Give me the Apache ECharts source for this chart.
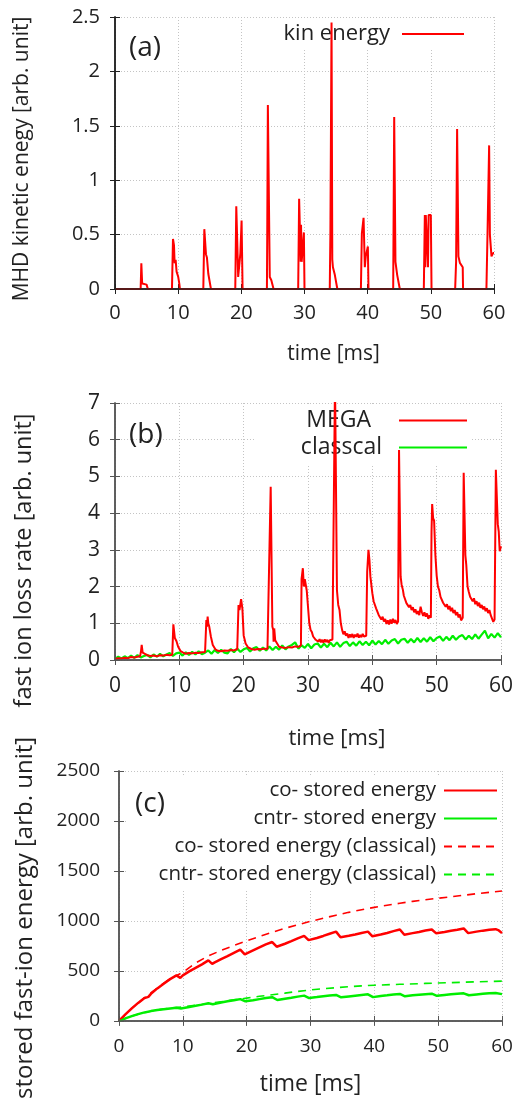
<!DOCTYPE html>
<html>
<head>
<meta charset="utf-8">
<script src="https://cdn.jsdelivr.net/npm/echarts@6/dist/echarts.min.js"></script>
<style>html,body{margin:0;padding:0;background:#fff}#c{width:520px;height:1102px}</style>
</head>
<body>
<div id="c"></div>
<script>
// ---------- DATA ----------
const timeTicks = [0, 10, 20, 30, 40, 50, 60];

// (a) MHD kinetic energy [t(ms), value]
const kinEnergy = [
[0,0],[4.06,0],[4.17,0.236],[4.3,0.05],[4.6,0.04],[5.0,0.04],[5.17,0.03],[5.2,0],
[9.02,0],[9.18,0.46],[9.34,0.40],[9.44,0.236],[9.6,0.267],[9.75,0.16],[10.0,0.113],[10.18,0.05],[10.28,0],
[13.98,0],[14.14,0.55],[14.4,0.32],[14.55,0.29],[14.77,0.14],[15.03,0.15],[15.19,0],
[19.04,0],[19.2,0.76],[19.4,0.33],[19.5,0.11],[19.7,0.12],[19.85,0.33],[20.04,0.63],[20.2,0],
[24.05,0],[24.1,0.48],[24.2,1.69],[24.5,0.11],[24.75,0.08],[25.0,0.07],[25.1,0],
[29.0,0],[29.15,0.83],[29.4,0.25],[29.45,0.59],[29.55,0.25],[29.9,0.52],[30.0,0],
[34.0,0],[34.1,0.51],[34.28,2.45],[34.4,0.27],[34.5,0.2],[34.8,0.13],[35.0,0.12],[35.2,0],
[38.93,0],[39.08,0.51],[39.35,0.655],[39.55,0.2],[39.7,0.3],[40.03,0.39],[40.13,0],
[44.04,0],[44.2,1.58],[44.4,0.25],[44.67,0.13],[44.9,0.12],[45.09,0],
[48.89,0],[49.05,0.68],[49.12,0.2],[49.2,0.68],[49.45,0.67],[49.55,0.2],[49.65,0.68],[50.0,0.68],[50.11,0],
[53.85,0],[54.0,0.25],[54.16,1.47],[54.37,0.3],[54.6,0.24],[55.05,0.2],[55.1,0],
[58.8,0],[58.97,0.5],[59.23,1.32],[59.35,0.5],[59.6,0.3],[59.86,0.33],[60,0.33]
];

// (b) fast ion loss rate: MEGA
const lossMEGA = [
[0,0.03],[0.5,0.05],[1,0.04],[1.5,0.06],[2,0.05],[2.5,0.08],[3,0.07],[3.5,0.09],[3.9,0.1],[4.05,0.25],[4.15,0.41],[4.3,0.2],[4.6,0.18],
[5.0,0.13],[5.5,0.11],[6,0.12],[6.5,0.10],[7,0.13],[7.5,0.12],[8,0.14],[8.5,0.13],[8.9,0.14],[9.07,0.97],[9.3,0.6],[9.56,0.51],[9.8,0.37],
[10.2,0.24],[10.6,0.2],[11,0.17],[11.5,0.19],[12,0.18],[12.5,0.2],[13,0.19],[13.5,0.21],[14.0,0.22],[14.2,1.09],[14.3,0.91],[14.4,1.18],
[14.5,1.0],[14.65,0.91],[14.9,0.64],[15.2,0.41],[15.6,0.29],[16,0.25],[16.5,0.24],[17,0.26],[17.5,0.25],[18,0.27],[18.5,0.26],[19.0,0.3],
[19.2,1.5],[19.35,1.36],[19.6,1.66],[19.8,1.4],[20.0,0.67],[20.3,0.45],[20.7,0.34],[21.2,0.3],[21.7,0.28],[22.2,0.3],[22.7,0.29],[23.2,0.31],
[23.7,0.3],[24.0,0.32],[24.2,4.72],[24.46,0.91],[24.6,0.82],[24.65,0.5],[24.75,0.86],[24.9,0.54],[25.5,0.36],[26,0.34],[26.5,0.33],[27,0.35],
[27.5,0.34],[28,0.37],[28.5,0.36],[28.9,0.4],[29.0,2.2],[29.2,2.5],[29.35,2.0],[29.5,2.2],[29.8,1.9],
[30.2,1.0],[30.4,0.82],[30.6,0.76],[30.8,0.64],[31.0,0.66],[31.2,0.55],[31.4,0.6],[31.6,0.5],[31.8,0.57],[32.0,0.48],[32.2,0.55],[32.4,0.47],
[32.6,0.56],[32.8,0.49],[33.0,0.55],[33.2,0.47],[33.4,0.54],[33.6,0.5],[33.8,0.56],[33.95,0.52],
[34.2,7.6],[34.35,7.6],[34.5,1.9],[34.7,1.5],[34.9,1.36],[35.1,1.0],
[35.3,0.82],[35.5,0.7],[35.7,0.78],[35.9,0.66],[36.1,0.72],[36.3,0.6],[36.5,0.7],[36.7,0.62],[36.9,0.71],[37.1,0.6],[37.3,0.69],[37.5,0.63],
[37.7,0.72],[37.9,0.61],[38.1,0.68],[38.3,0.62],[38.5,0.71],[38.7,0.64],[38.9,0.69],[39.05,0.66],
[39.2,2.4],[39.4,3.0],[39.55,2.72],[39.7,2.27],
[40.0,1.82],[40.2,1.6],[40.4,1.58],[40.6,1.4],[40.8,1.36],[41.0,1.22],[41.2,1.2],[41.4,1.1],[41.6,1.18],[41.8,1.05],[42.0,1.12],[42.2,0.98],
[42.4,1.08],[42.6,0.97],[42.8,1.1],[43.0,0.99],[43.2,1.12],[43.4,1.02],[43.6,1.09],[43.8,0.98],[44.0,1.05],
[44.15,5.72],
[44.4,2.27],[44.55,2.05],[44.75,1.91],[44.9,1.75],[45.1,1.7],[45.3,1.55],[45.5,1.58],[45.7,1.44],[45.9,1.5],[46.1,1.36],[46.3,1.44],[46.5,1.3],
[46.7,1.38],[46.9,1.25],[47.1,1.33],[47.3,1.22],[47.5,1.45],[47.7,1.3],[47.9,1.2],[48.1,1.3],[48.3,1.18],[48.5,1.27],[48.7,1.12],[48.9,1.22],[49.1,1.15],
[49.2,3.5],[49.3,4.25],[49.45,3.86],[49.6,3.8],[49.8,2.86],
[50.0,2.3],[50.2,2.0],[50.4,1.9],[50.6,1.72],[50.8,1.75],[51.0,1.56],[51.2,1.6],[51.4,1.45],[51.6,1.52],[51.8,1.38],[52.0,1.47],[52.2,1.33],
[52.4,1.42],[52.6,1.28],[52.8,1.36],[53.0,1.22],[53.2,1.3],[53.4,1.16],[53.6,1.24],[53.8,1.08],[54.05,1.15],
[54.2,5.1],
[54.46,2.86],[54.6,2.6],[54.8,2.0],[55.0,1.85],[55.2,1.72],[55.4,1.76],[55.6,1.6],[55.8,1.68],[56.0,1.52],[56.2,1.6],[56.4,1.47],[56.6,1.56],
[56.8,1.42],[57.0,1.5],[57.2,1.38],[57.4,1.46],[57.6,1.33],[57.8,1.41],[58.0,1.28],[58.2,1.36],[58.4,1.22],[58.6,1.27],[58.8,1.04],[59.0,1.1],
[59.2,5.18],[59.5,3.7],[59.65,3.5],[59.8,2.96],[60,3.1]
];

// (b) fast ion loss rate: classical
const lossClassical = [
[0,0.03],[0.5,0.09],[1,0.04],[1.5,0.1],[2,0.05],[2.5,0.12],[3,0.06],[3.5,0.13],[4,0.07],[4.5,0.11],[5,0.14],[5.5,0.07],[6,0.15],
[6.5,0.09],[7,0.17],[7.5,0.1],[8,0.15],[8.5,0.19],[9,0.11],[9.5,0.18],[10,0.2],[10.5,0.12],[11,0.21],[11.5,0.14],[12,0.22],[12.5,0.15],
[13,0.24],[13.5,0.16],[14,0.2],[14.5,0.26],[15,0.17],[15.5,0.27],[16,0.19],[16.5,0.28],[17,0.2],[17.5,0.18],[18,0.3],[18.5,0.21],
[19,0.31],[19.5,0.22],[20,0.29],[20.5,0.33],[21,0.23],[21.5,0.32],[22,0.35],[22.5,0.25],[23,0.34],[23.5,0.26],[24,0.37],[24.5,0.27],
[25,0.36],[25.5,0.28],[26,0.4],[26.5,0.29],[27,0.37],[27.5,0.41],[28,0.48],[28.5,0.31],[29,0.4],[29.5,0.33],[30,0.44],[30.5,0.32],
[31,0.42],[31.5,0.45],[32,0.34],[32.5,0.44],[33,0.35],[33.5,0.47],[34,0.37],[34.5,0.48],[35,0.36],[35.5,0.46],[36,0.5],[36.5,0.38],
[37,0.48],[37.5,0.39],[38,0.51],[38.5,0.41],[39,0.5],[39.5,0.4],[40,0.53],[40.5,0.42],[41,0.52],[41.5,0.43],[42,0.55],[42.5,0.44],
[43,0.53],[43.5,0.57],[44,0.45],[44.5,0.55],[45,0.58],[45.5,0.47],[46,0.57],[46.5,0.48],[47,0.6],[47.5,0.49],[48,0.59],[48.5,0.5],
[49,0.62],[49.5,0.51],[50,0.6],[50.5,0.64],[51,0.52],[51.5,0.63],[52,0.54],[52.5,0.66],[53,0.55],[53.5,0.64],[54,0.68],[54.5,0.56],
[55,0.66],[55.5,0.57],[56,0.7],[56.5,0.58],[57,0.69],[57.5,0.8],[58,0.59],[58.5,0.71],[59,0.61],[59.5,0.73],[60,0.62]
];

// (c) stored fast-ion energy
const coStored = [
[0,0],[1,65],[2,125],[3,180],[4,228],[4.6,240],[5,270],[6,325],[7,372],[8,418],[9,455],[9.6,430],[10,455],[11,495],[12,530],[13,565],
[14,605],[14.6,570],[15,585],[16,618],[17,648],[18,680],[19,712],[19.7,666],[20,675],[21,705],[22,735],[23,765],[24,789],[24.7,742],
[25,750],[26,772],[27,798],[28,825],[29,850],[29.7,808],[30,812],[31,830],[32,850],[33,872],[34,893],[34.7,837],[35,842],[36,852],
[37,865],[38,880],[39,893],[39.7,846],[40,850],[41,864],[42,880],[43,898],[44,915],[44.7,862],[45,866],[46,878],[47,890],[48,904],
[49,915],[49.7,876],[50,880],[51,890],[52,902],[53,912],[54,925],[54.7,878],[55,882],[56,893],[57,903],[58,912],[59,918],[59.5,905],[60,878]
];
const cntrStored = [
[0,0],[1,25],[2,48],[3,68],[4,85],[5,98],[6,108],[7,117],[8,124],[9,131],[9.7,125],[10,130],[11,140],[12,151],[13,163],[14,176],
[14.7,166],[15,170],[16,185],[17,196],[18,206],[19,218],[19.8,196],[20,198],[21,206],[22,218],[23,229],[24,237],[24.8,209],[25,210],
[26,222],[27,232],[28,243],[29,253],[29.8,228],[30,229],[31,238],[32,247],[33,254],[34,260],[34.8,236],[35,238],[36,245],[37,252],
[38,259],[39,266],[39.8,238],[40,240],[41,250],[42,256],[43,263],[44,270],[44.8,246],[45,248],[46,256],[47,262],[48,267],[49,272],
[49.8,251],[50,253],[51,260],[52,266],[53,271],[54,276],[54.8,257],[55,258],[56,265],[57,271],[58,276],[59,280],[60,268]
];
const coClassical = [
[0,0],[2,125],[4,232],[6,330],[8,422],[10,485],[12,580],[14,650],[16,705],[18,755],[20,800],[22,845],[24,887],[26,926],[28,962],
[30,996],[32,1027],[34,1057],[36,1086],[38,1112],[40,1136],[42,1157],[44,1177],[46,1196],[48,1212],[50,1227],[52,1242],[54,1257],
[56,1272],[58,1286],[60,1300]
];
const cntrClassical = [
[0,0],[2,48],[4,85],[6,110],[8,127],[10,140],[12,156],[14,174],[16,192],[18,210],[20,228],[22,246],[24,262],[26,278],[28,295],
[30,310],[32,322],[34,332],[36,342],[38,350],[40,357],[44,366],[48,375],[52,383],[56,391],[60,398]
];

// ---------- CHART ----------
const RED = '#ff0000', GREEN = '#00ee00';
const FONT = 'Open Sans';
const chart = echarts.init(document.getElementById('c'), null, {renderer: 'canvas'});

const grids = [
  {left: 115, right: 26, top: 17, height: 272},
  {left: 115, right: 19, top: 403, height: 257},
  {left: 119, right: 18, top: 771, height: 256}
];
const frameCol = ['#222', '#555', '#555'];
const tickFS = [20, 21, 19];
const gridLine = {show: true, lineStyle: {color: '#c4c4c4', type: [1, 2], width: 1}};
const plain = function (v) { return String(v); };

function xAxes(gi, labelMargin, nameGap, nameFS) {
  const common = {gridIndex: gi, type: 'value', min: 0, max: 60, interval: 10,
    axisLine: {show: true, lineStyle: {color: frameCol[gi], width: 1.5}},
    axisTick: {show: true, inside: true, length: 5, lineStyle: {color: frameCol[gi], width: 1}}};
  return [
    Object.assign({}, common, {position: 'bottom',
      axisLabel: {fontSize: tickFS[gi], color: '#222', margin: labelMargin, fontFamily: FONT, formatter: plain},
      splitLine: gridLine,
      name: 'time [ms]', nameLocation: 'middle', nameGap: nameGap,
      nameTextStyle: {fontSize: nameFS, color: '#222', fontFamily: FONT, padding: gi < 2 ? [0, 0, 0, 58] : 0}}),
    Object.assign({}, common, {position: 'top', z: 3, axisLabel: {show: false}, splitLine: {show: false}})
  ];
}
function yAxes(gi, min, max, interval, name, nameGap, nameFS, namePad, labelMargin) {
  const common = {gridIndex: gi, type: 'value', min: min, max: max, interval: interval,
    axisLine: {show: true, lineStyle: {color: frameCol[gi], width: 1.5}},
    axisTick: {show: true, inside: true, length: 5, lineStyle: {color: frameCol[gi], width: 1}}};
  return [
    Object.assign({}, common, {position: 'left',
      axisLabel: {fontSize: tickFS[gi], color: '#222', margin: labelMargin, fontFamily: FONT, formatter: plain},
      splitLine: gridLine,
      name: name, nameLocation: 'middle', nameGap: nameGap,
      nameTextStyle: {fontSize: nameFS, color: '#222', fontFamily: FONT, padding: [0, namePad, 0, 0]}}),
    Object.assign({}, common, {position: 'right', z: 3, axisLabel: {show: false}, splitLine: {show: false}})
  ];
}

const xAxis = [].concat(xAxes(0, 14, 55, 21), xAxes(1, 16, 68, 22), xAxes(2, 16, 52, 23));
const yAxis = [].concat(
  yAxes(0, 0, 2.5, 0.5, 'MHD kinetic enegy [arb. unit]', 82, 21, 12, 15),
  yAxes(1, 0, 7, 1, 'fast ion loss rate [arb. unit]', 79, 23.5, 58, 15),
  yAxes(2, 0, 2500, 500, 'stored fast-ion energy [arb. unit]', 82, 24, 44, 19)
);

function line(name, data, xi, yi, color, width, type) {
  return {name: name, type: 'line', xAxisIndex: xi, yAxisIndex: yi, data: data,
    showSymbol: false, symbol: 'none', color: color, z: 2,
    lineStyle: {color: color, width: width, type: type || 'solid'}, animation: false};
}

const series = [
  line('kin energy', kinEnergy, 0, 0, RED, 2),
  line('classcal', lossClassical, 2, 2, GREEN, 2.2),
  line('MEGA', lossMEGA, 2, 2, RED, 2),
  line('co- stored energy', coStored, 4, 4, RED, 2.5),
  line('cntr- stored energy', cntrStored, 4, 4, GREEN, 2.5),
  line('co- stored energy (classical)', coClassical, 4, 4, RED, 1.6, [8, 6]),
  line('cntr- stored energy (classical)', cntrClassical, 4, 4, GREEN, 1.6, [8, 6])
];

const legendIconStyle = {opacity: 0};
const legend = [
  {data: ['kin energy'], orient: 'vertical', align: 'right', right: 51, top: 19,
   itemWidth: 62, itemHeight: 2, itemStyle: legendIconStyle, padding: [4, 4, 4, 4], backgroundColor: '#fff', z: 1,
   textStyle: {fontSize: 22, color: '#222', fontFamily: FONT, padding: [0, 7, 0, 0]}},
  {data: [{name: 'MEGA', textStyle: {padding: [0, 23, 0, 0]}}, {name: 'classcal', textStyle: {padding: [0, 12, 0, 0]}}],
   orient: 'vertical', align: 'right', right: 48, top: 405, itemGap: 4,
   itemWidth: 68, itemHeight: 2, itemStyle: legendIconStyle, padding: [4, 4, 6, 45], backgroundColor: '#fff', z: 1,
   textStyle: {fontSize: 23, color: '#222', fontFamily: FONT}},
  {data: ['co- stored energy', 'cntr- stored energy', 'co- stored energy (classical)', 'cntr- stored energy (classical)'],
   orient: 'vertical', align: 'right', right: 20, top: 776, itemGap: 7,
   itemWidth: 53, itemHeight: 2, itemStyle: legendIconStyle, padding: [4, 2, 6, 32], backgroundColor: '#fff', z: 1,
   textStyle: {fontSize: 20.5, color: '#222', fontFamily: FONT, padding: [0, 3, 0, 0]}}
];

const graphic = [
  {type: 'text', left: 129, top: 34, z: 5, style: {text: '(a)', fontSize: 28, fontFamily: FONT, fill: '#222'}},
  {type: 'text', left: 129, top: 421, z: 5, style: {text: '(b)', fontSize: 28, fontFamily: FONT, fill: '#222'}},
  {type: 'text', left: 135, top: 790, z: 5, style: {text: '(c)', fontSize: 28, fontFamily: FONT, fill: '#222'}}
];

chart.setOption({
  animation: false,
  backgroundColor: '#fff',
  textStyle: {fontFamily: FONT},
  grid: grids,
  xAxis: xAxis,
  yAxis: yAxis,
  legend: legend,
  series: series,
  graphic: graphic
});
</script>
</body>
</html>
